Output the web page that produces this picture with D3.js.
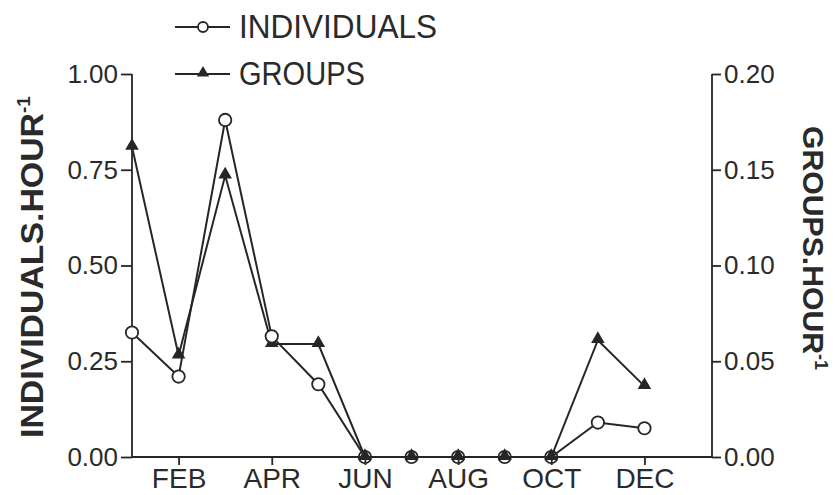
<!DOCTYPE html>
<html>
<head>
<meta charset="utf-8">
<script src="https://cdn.jsdelivr.net/npm/d3@7"></script>
<style>
  html, body { margin: 0; padding: 0; background: #fff; }
  svg { display: block; }
  text { font-family: "Liberation Sans", Arial, sans-serif; fill: #2a2a2a; }
</style>
</head>
<body>
<svg id="chart" width="835" height="495"></svg>
<script>
// Monthly sighting rates
const months = ["JAN","FEB","MAR","APR","MAY","JUN","JUL","AUG","SEP","OCT","NOV","DEC"];
const monthTickLabels = ["FEB","APR","JUN","AUG","OCT","DEC"];
const individuals = [0.325, 0.21, 0.88, 0.315, 0.19, 0, 0, 0, 0, 0, 0.09, 0.075];
const groups = [0.162, 0.053, 0.147, 0.059, 0.059, 0, 0, 0, 0, 0, 0.061, 0.037];
const leftTicks = [0, 0.25, 0.5, 0.75, 1.0];
const rightTicks = [0, 0.05, 0.10, 0.15, 0.20];

const ink = "#262626";
const svg = d3.select("#chart");

const x = d3.scaleLinear().domain([1, 13.45]).range([132, 712]);
const yL = d3.scaleLinear().domain([0, 1]).range([457, 74]);
const yR = d3.scaleLinear().domain([0, 0.2]).range([457, 74]);

// Left axis
const gL = svg.append("g").attr("transform", `translate(${x(1)},0)`)
  .call(d3.axisLeft(yL).tickValues(leftTicks).tickFormat(d3.format(".2f")).tickSize(11).tickPadding(3));
// Right axis
const gR = svg.append("g").attr("transform", `translate(${x.range()[1]},0)`)
  .call(d3.axisRight(yR).tickValues(rightTicks).tickFormat(d3.format(".2f")).tickSize(9).tickPadding(3));
// Bottom axis
const gB = svg.append("g").attr("transform", `translate(0,${yL(0)})`)
  .call(d3.axisBottom(x)
    .tickValues(monthTickLabels.map(m => months.indexOf(m) + 1))
    .tickFormat(v => months[v - 1]).tickSize(8).tickPadding(3));

[gL, gR, gB].forEach(g => {
  g.selectAll("path.domain").attr("stroke", ink).attr("stroke-width", 1.8);
  g.selectAll(".tick line").attr("stroke", ink).attr("stroke-width", 1.8);
  g.selectAll(".tick text").attr("fill", "#2a2a2a").style("font-family", "Liberation Sans, Arial, sans-serif");
});
gL.select("path.domain").attr("d", `M0,${yL(1)}V${yL(0)}`);
gR.select("path.domain").attr("d", `M0,${yR(0.2)}V${yR(0)}`);
gB.select("path.domain").attr("d", `M${x(1)},0H${x.range()[1]}`);
gL.selectAll(".tick text").style("font-size", "26px");
gR.selectAll(".tick text").style("font-size", "26px");
gB.selectAll(".tick text").style("font-size", "28px");

// Axis titles
const titleL = svg.append("text")
  .attr("transform", `translate(43,438) rotate(-90)`)
  .attr("text-anchor", "start")
  .style("font-size", "32px").style("font-weight", "bold");
titleL.append("tspan").attr("textLength", 325).attr("lengthAdjust", "spacingAndGlyphs").text("INDIVIDUALS.HOUR");
titleL.append("tspan").attr("dy", -13).style("font-size", "19px").text("-1");

const titleR = svg.append("text")
  .attr("transform", `translate(803,126) rotate(90)`)
  .attr("text-anchor", "start")
  .style("font-size", "30px").style("font-weight", "bold");
titleR.append("tspan").attr("textLength", 228).attr("lengthAdjust", "spacingAndGlyphs").text("GROUPS.HOUR");
titleR.append("tspan").attr("dy", -12).style("font-size", "18px").text("-1");

// Series lines
const lineInd = d3.line().x((d, i) => x(i + 1)).y(d => yL(d));
const lineGrp = d3.line().x((d, i) => x(i + 1)).y(d => yR(d));

svg.append("path").datum(groups).attr("d", lineGrp)
  .attr("fill", "none").attr("stroke", ink).attr("stroke-width", 2);
svg.append("path").datum(individuals).attr("d", lineInd)
  .attr("fill", "none").attr("stroke", ink).attr("stroke-width", 2);

const tri = d3.symbol().type(d3.symbolTriangle).size(80);

svg.append("g").selectAll("path").data(groups).join("path")
  .attr("d", tri)
  .attr("transform", (d, i) => `translate(${x(i + 1)},${yR(d) - 1})`)
  .attr("fill", ink);

svg.append("g").selectAll("circle").data(individuals).join("circle")
  .attr("cx", (d, i) => x(i + 1)).attr("cy", d => yL(d)).attr("r", 6.2)
  .attr("fill", d => d === 0 ? "none" : "#fff")
  .attr("stroke", ink).attr("stroke-width", 1.8);

// Legend
const legend = svg.append("g");
const legItems = [
  { name: "INDIVIDUALS", y: 27, mark: "circle", len: 198 },
  { name: "GROUPS", y: 74, mark: "triangle", len: 126 }
];
legItems.forEach(it => {
  legend.append("line").attr("x1", 175).attr("x2", 230).attr("y1", it.y).attr("y2", it.y)
    .attr("stroke", ink).attr("stroke-width", 2);
  if (it.mark === "circle") {
    legend.append("circle").attr("cx", 203).attr("cy", it.y).attr("r", 5)
      .attr("fill", "#fff").attr("stroke", ink).attr("stroke-width", 1.8);
  } else {
    legend.append("path").attr("d", d3.symbol().type(d3.symbolTriangle).size(65))
      .attr("transform", `translate(203,${it.y - 1})`).attr("fill", ink);
  }
  legend.append("text").attr("x", 239).attr("y", it.y + 11)
    .attr("textLength", it.len).attr("lengthAdjust", "spacingAndGlyphs")
    .style("font-size", "33px").text(it.name);
});
</script>
</body>
</html>
